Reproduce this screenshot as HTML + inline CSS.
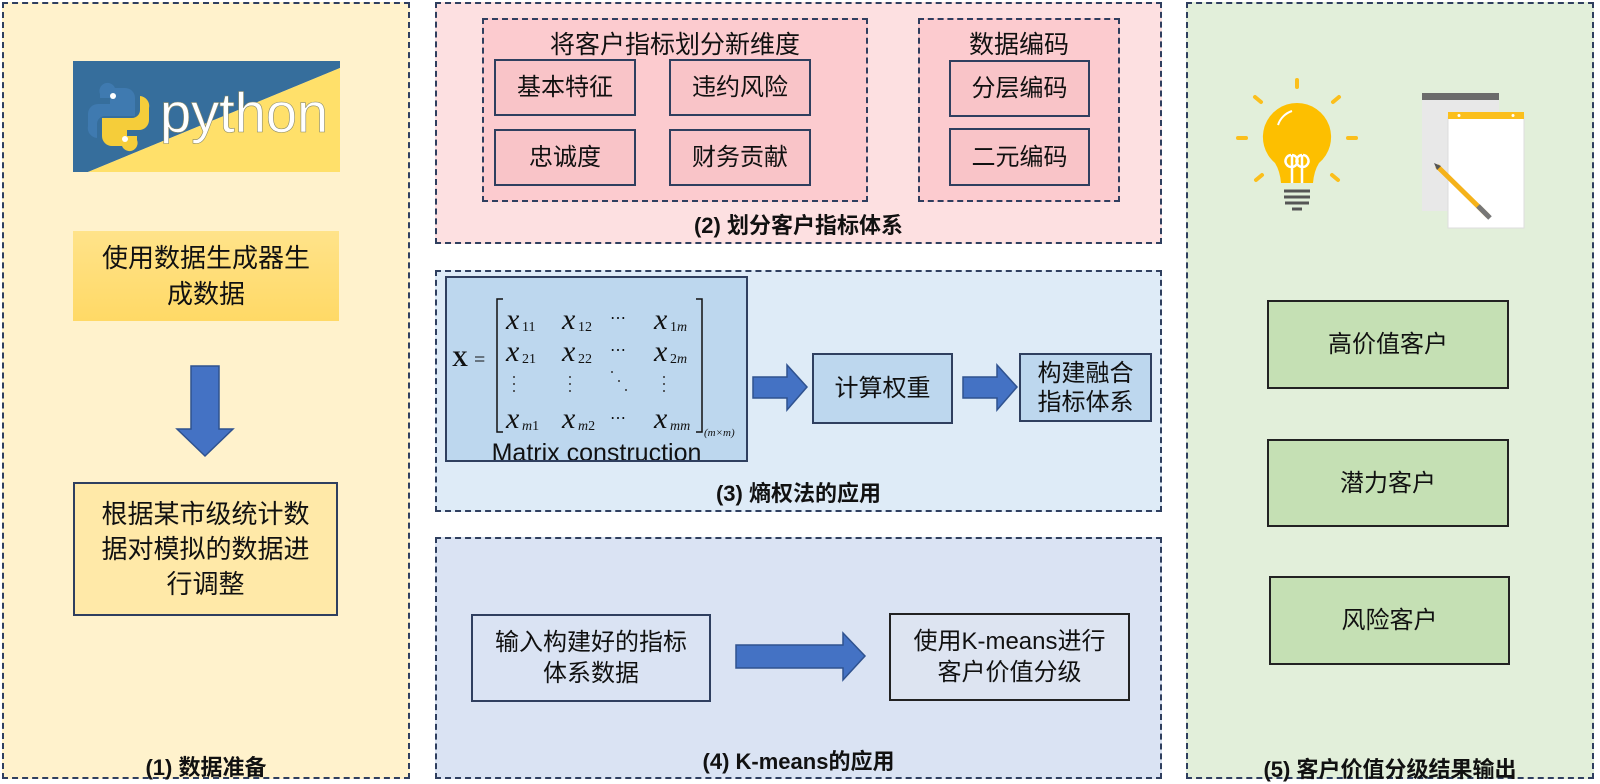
<!DOCTYPE html>
<html><head><meta charset="utf-8"><style>
body{margin:0;width:1600px;height:784px;position:relative;background:#fff;overflow:hidden;font-family:"Liberation Sans","Noto Sans CJK SC",sans-serif;color:#111}
.p{position:absolute;box-sizing:border-box;border:2px dashed #2f3f5f}
.b{position:absolute;box-sizing:border-box;border:2px solid #2f3f5f;display:flex;align-items:center;justify-content:center;text-align:center;font-size:24px;line-height:31px}
.lab{position:absolute;font-weight:bold;font-size:22px;text-align:center}
.t{position:absolute;font-size:25px;text-align:center}
svg{position:absolute;left:0;top:0}
</style></head><body>
<!-- panels -->
<div class="p" style="left:2px;top:2px;width:408px;height:777px;background:#fff2cc"></div>
<div class="p" style="left:435px;top:2px;width:727px;height:242px;background:#fde0e1"></div>
<div class="p" style="left:435px;top:270px;width:727px;height:242px;background:#deebf7"></div>
<div class="p" style="left:435px;top:537px;width:727px;height:242px;background:#dae3f3"></div>
<div class="p" style="left:1186px;top:2px;width:408px;height:777px;background:#e2efda"></div>

<!-- panel 1 -->
<div class="b" style="left:73px;top:231px;width:266px;height:90px;border:none;background:linear-gradient(#ffe38a,#ffd966);font-size:26px;line-height:36px">使用数据生成器生<br>成数据</div>
<div class="b" style="left:73px;top:482px;width:265px;height:134px;background:#ffe9a8;font-size:26px;line-height:35px">根据某市级统计数<br>据对模拟的数据进<br>行调整</div>
<div class="lab" style="left:2px;top:750px;width:408px">(1) 数据准备</div>

<!-- panel 2 -->
<div class="p" style="left:482px;top:18px;width:386px;height:184px;background:#fccbcf"></div>
<div class="p" style="left:918px;top:18px;width:202px;height:184px;background:#fccbcf"></div>
<div class="t" style="left:482px;top:25px;width:386px">将客户指标划分新维度</div>
<div class="t" style="left:918px;top:25px;width:202px">数据编码</div>
<div class="b" style="left:494px;top:59px;width:142px;height:57px;background:#f9c4c8">基本特征</div>
<div class="b" style="left:669px;top:59px;width:142px;height:57px;background:#f9c4c8">违约风险</div>
<div class="b" style="left:494px;top:129px;width:142px;height:57px;background:#f9c4c8">忠诚度</div>
<div class="b" style="left:669px;top:129px;width:142px;height:57px;background:#f9c4c8">财务贡献</div>
<div class="b" style="left:949px;top:60px;width:141px;height:57px;background:#f9c4c8">分层编码</div>
<div class="b" style="left:949px;top:128px;width:141px;height:58px;background:#f9c4c8">二元编码</div>
<div class="lab" style="left:435px;top:208px;width:727px">(2) 划分客户指标体系</div>

<!-- panel 3 -->
<div class="b" style="left:445px;top:276px;width:303px;height:186px;background:#bdd7ee;overflow:hidden;align-items:flex-end"><span style="font-size:25px;line-height:22px;margin-bottom:-4px">Matrix construction</span></div>
<div class="b" style="left:812px;top:353px;width:141px;height:71px;background:#bdd7ee">计算权重</div>
<div class="b" style="left:1019px;top:353px;width:133px;height:69px;background:#bdd7ee;line-height:29px">构建融合<br>指标体系</div>
<div class="lab" style="left:435px;top:476px;width:727px">(3) 熵权法的应用</div>

<!-- panel 4 -->
<div class="b" style="left:471px;top:614px;width:240px;height:88px;background:#dae3f3">输入构建好的指标<br>体系数据</div>
<div class="b" style="left:889px;top:613px;width:241px;height:88px;background:#dde4f1;border-color:#222">使用K-means进行<br>客户价值分级</div>
<div class="lab" style="left:435px;top:744px;width:727px">(4) K-means的应用</div>

<!-- panel 5 -->
<div class="b" style="left:1267px;top:300px;width:242px;height:89px;background:#c5e0b4;border-color:#222">高价值客户</div>
<div class="b" style="left:1267px;top:439px;width:242px;height:88px;background:#c5e0b4;border-color:#222">潜力客户</div>
<div class="b" style="left:1269px;top:576px;width:241px;height:89px;background:#c5e0b4;border-color:#222">风险客户</div>
<div class="lab" style="left:1186px;top:752px;width:408px">(5) 客户价值分级结果输出</div>

<svg width="1600" height="784" viewBox="0 0 1600 784">
 <!-- python logo -->
 <polygon points="73,61 340,61 340,68 88,172 73,172" fill="#366e9c"/>
 <polygon points="340,68 340,172 88,172" fill="#ffe06a"/>
 <path d="M115,88 h10 a10,10 0 0 1 10,10 v18 h-30 a8,8 0 0 0 -8,8 v14 a10,10 0 0 1 -9,-12 v-12 a10,10 0 0 1 10,-10 h12 v-6 h-10 v-4 a8,8 0 0 1 15,-6z" fill="#3f7ab0"/>
 <path d="M122,146 h-10 a10,10 0 0 1 -10,-10 v-18 h30 a8,8 0 0 0 8,-8 v-14 a10,10 0 0 1 9,12 v12 a10,10 0 0 1 -10,10 h-12 v6 h10 v4 a8,8 0 0 1 -15,6z" fill="#f5cd3a"/>
 <circle cx="113" cy="96" r="3" fill="#fff"/><circle cx="125" cy="139" r="3" fill="#fff"/>
 <text x="160" y="132" font-family="Liberation Sans, sans-serif" font-size="56" fill="#fff" stroke="#8a8a6a" stroke-width="0.6">python</text>
 <!-- down arrow -->
 <polygon points="191,366 219,366 219,429 233,429 205,456 177,429 191,429" fill="#4472c4" stroke="#2f528f" stroke-width="1.5"/>
 <!-- right arrows -->
 <polygon points="753,377 787,377 787,365 807,387 787,410 787,398 753,398" fill="#4472c4" stroke="#2f528f" stroke-width="1.5"/>
 <polygon points="963,377 997,377 997,365 1017,387 997,410 997,398 963,398" fill="#4472c4" stroke="#2f528f" stroke-width="1.5"/>
 <polygon points="736,645 843,645 843,633 865,656 843,680 843,668 736,668" fill="#4472c4" stroke="#2f528f" stroke-width="1.5"/>
 <!-- matrix -->
 <g font-family="Liberation Serif, serif" fill="#111">
  <text x="452" y="366" font-size="22" font-weight="bold">X</text><text x="474" y="366" font-size="20">=</text>
  <path d="M503,299 h-6 v133 h6 M696,299 h6 v133 h-6" fill="none" stroke="#111" stroke-width="1.5"/>
  <g font-style="italic" font-size="30">
   <text x="506" y="329">x</text><text x="562" y="329">x</text><text x="654" y="329">x</text>
   <text x="506" y="361">x</text><text x="562" y="361">x</text><text x="654" y="361">x</text>
   <text x="506" y="428">x</text><text x="562" y="428">x</text><text x="654" y="428">x</text>
  </g>
  <g font-size="14">
   <text x="522" y="331">11</text><text x="578" y="331">12</text><text x="670" y="331">1<tspan font-style="italic">m</tspan></text>
   <text x="522" y="363">21</text><text x="578" y="363">22</text><text x="670" y="363">2<tspan font-style="italic">m</tspan></text>
   <text x="522" y="430"><tspan font-style="italic">m</tspan>1</text><text x="578" y="430"><tspan font-style="italic">m</tspan>2</text><text x="670" y="430" font-style="italic">mm</text>
   <text x="704" y="436" font-size="11" font-style="italic">(m×m)</text>
  </g>
  <g font-size="16"><text x="610" y="323">⋯</text><text x="610" y="355">⋯</text><text x="610" y="423">⋯</text></g>
  <g fill="#333"><circle cx="514" cy="377" r="1"/><circle cx="514" cy="384" r="1"/><circle cx="514" cy="391" r="1"/>
  <circle cx="570" cy="377" r="1"/><circle cx="570" cy="384" r="1"/><circle cx="570" cy="391" r="1"/>
  <circle cx="664" cy="377" r="1"/><circle cx="664" cy="384" r="1"/><circle cx="664" cy="391" r="1"/>
  <circle cx="612" cy="372" r="1"/><circle cx="619" cy="381" r="1"/><circle cx="626" cy="390" r="1"/></g>
 </g>
 <!-- bulb -->
 <g stroke="#fbbf1c" stroke-width="4" stroke-linecap="round">
  <line x1="1297" y1="80" x2="1297" y2="87"/><line x1="1255" y1="97" x2="1261" y2="102"/><line x1="1339" y1="97" x2="1333" y2="102"/>
  <line x1="1238" y1="138" x2="1246" y2="138"/><line x1="1348" y1="138" x2="1356" y2="138"/>
  <line x1="1256" y1="180" x2="1262" y2="175"/><line x1="1338" y1="180" x2="1332" y2="175"/>
 </g>
 <path d="M1297,103 a34,34 0 0 1 22,60 q-5,8 -6,20 h-32 q-1,-12 -6,-20 a34,34 0 0 1 22,-60z" fill="#fdbf00"/>
 <path d="M1278,125 a22,22 0 0 1 14,-14" stroke="#fff" stroke-width="2" fill="none"/>
 <path d="M1292,183 v-28 m10,28 v-28 m-10,0 a6,6 0 1 1 -1,0 m11,0 a6,6 0 1 0 1,0" stroke="#fff" stroke-width="2.5" fill="none"/>
 <g stroke="#555" stroke-width="3"><line x1="1284" y1="191" x2="1310" y2="191"/><line x1="1284" y1="197" x2="1310" y2="197"/><line x1="1285" y1="203" x2="1309" y2="203"/></g>
 <line x1="1292" y1="209" x2="1302" y2="209" stroke="#555" stroke-width="3"/>
 <!-- notepad -->
 <rect x="1422" y="98" width="77" height="113" fill="#e8e8e8"/>
 <rect x="1422" y="93" width="77" height="7" fill="#6b6b6b"/>
 <rect x="1448" y="117" width="76" height="111" fill="#fff" stroke="#ddd"/>
 <rect x="1448" y="112" width="76" height="7" fill="#fbbf1c"/>
 <circle cx="1459" cy="115.5" r="1.5" fill="#fff"/><circle cx="1513" cy="115.5" r="1.5" fill="#fff"/>
 <line x1="1437" y1="166" x2="1488" y2="216" stroke="#f5b21a" stroke-width="5"/>
 <line x1="1478" y1="206" x2="1490" y2="218" stroke="#777" stroke-width="5"/>
 <polygon points="1434,163 1441,166 1437,170" fill="#555"/>
</svg>
</body></html>
